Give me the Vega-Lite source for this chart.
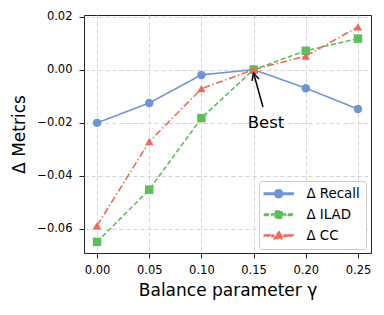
{
  "$schema": "https://vega.github.io/schema/vega-lite/v6.json",
  "width": 287,
  "height": 238,
  "autosize": {"type": "none"},
  "padding": {"left": 84, "top": 15, "right": 13, "bottom": 62},
  "config": {
    "font": "DejaVu Sans",
    "view": {"stroke": "#222222", "strokeWidth": 1},
    "axis": {
      "domain": false,
      "tickColor": "#222222",
      "tickSize": 5,
      "tickWidth": 1,
      "labelFontSize": 11.5,
      "labelColor": "#000000",
      "titleFontSize": 17,
      "titleFontWeight": "normal",
      "titleColor": "#000000",
      "gridColor": "#d3d3d3",
      "gridDash": [4, 3],
      "gridWidth": 1
    }
  },
  "datasets": {
    "metrics": [
      {"gamma": 0.00, "metric": "Δ Recall", "value": -0.0201},
      {"gamma": 0.05, "metric": "Δ Recall", "value": -0.0126},
      {"gamma": 0.10, "metric": "Δ Recall", "value": -0.0020},
      {"gamma": 0.15, "metric": "Δ Recall", "value": 0.0},
      {"gamma": 0.20, "metric": "Δ Recall", "value": -0.0070},
      {"gamma": 0.25, "metric": "Δ Recall", "value": -0.0149},
      {"gamma": 0.00, "metric": "Δ ILAD", "value": -0.0650},
      {"gamma": 0.05, "metric": "Δ ILAD", "value": -0.0453},
      {"gamma": 0.10, "metric": "Δ ILAD", "value": -0.0183},
      {"gamma": 0.15, "metric": "Δ ILAD", "value": 0.0},
      {"gamma": 0.20, "metric": "Δ ILAD", "value": 0.0071},
      {"gamma": 0.25, "metric": "Δ ILAD", "value": 0.0117},
      {"gamma": 0.00, "metric": "Δ CC", "value": -0.0589},
      {"gamma": 0.05, "metric": "Δ CC", "value": -0.0272},
      {"gamma": 0.10, "metric": "Δ CC", "value": -0.0072},
      {"gamma": 0.15, "metric": "Δ CC", "value": 0.0},
      {"gamma": 0.20, "metric": "Δ CC", "value": 0.0051},
      {"gamma": 0.25, "metric": "Δ CC", "value": 0.0161}
    ],
    "arrow": [
      {"x": 0.1590, "y": -0.0141, "x2": 0.1500, "y2": -0.0014}
    ],
    "head": [
      {"x": 0.1499, "y": -0.0013}
    ],
    "note": [
      {"x": 0.1619, "y": -0.0219, "label": "Best"}
    ]
  },
  "layer": [
    {
      "data": {"name": "metrics"},
      "mark": {"type": "point", "filled": true, "opacity": 0},
      "encoding": {
        "x": {
          "field": "gamma", "type": "quantitative",
          "scale": {"domain": [-0.0125, 0.2625], "nice": false, "zero": false},
          "axis": {"values": [0, 0.05, 0.1, 0.15, 0.2, 0.25], "format": ".2f", "labelPadding": 6, "titlePadding": 7, "title": "Balance parameter γ"}
        },
        "y": {
          "field": "value", "type": "quantitative",
          "scale": {"domain": [-0.0692, 0.0206], "nice": false, "zero": false},
          "axis": {"values": [-0.06, -0.04, -0.02, 0, 0.02], "format": ".2f", "labelPadding": 7, "titlePadding": 8, "title": "Δ Metrics"}
        },
        "color": {
          "field": "metric", "type": "nominal",
          "scale": {"domain": ["Δ Recall", "Δ ILAD", "Δ CC"], "range": ["#6f95d2", "#5ebf5a", "#ef6a55"]},
          "legend": {
            "title": null,
            "orient": "none",
            "legendX": 175,
            "legendY": 166,
            "fillColor": "#ffffff",
            "strokeColor": "#cccccc",
            "cornerRadius": 3,
            "padding": 6,
            "labelFontSize": 13.4,
            "labelColor": "#000000",
            "symbolSize": 64,
            "symbolOpacity": 1,
            "symbolOffset": 7,
            "labelOffset": 21,
            "rowPadding": 6
          }
        },
        "shape": {
          "field": "metric", "type": "nominal",
          "scale": {"domain": ["Δ Recall", "Δ ILAD", "Δ CC"], "range": [
            "M-3.6,-0.19H-0.95V0.19H-3.6Z M0.95,-0.19H3.6V0.19H0.95Z M1,0A1,1,0,1,1,-1,0A1,1,0,1,1,1,0Z",
            "M-3.6,-0.19H-2.35V0.19H-3.6Z M-1.725,-0.19H-0.9V0.19H-1.725Z M0.9,-0.19H1.725V0.19H0.9Z M2.35,-0.19H3.6V0.19H2.35Z M-0.9,-0.9H0.9V0.9H-0.9Z",
            "M-3.6,-0.19H-2.1V0.19H-3.6Z M-1.7,-0.19H-1.3V0.19H-1.7Z M1.3,-0.19H1.7V0.19H1.3Z M2.1,-0.19H3.6V0.19H2.1Z M0,-1.15L1.1,0.75H-1.1Z"
          ]},
          "legend": null
        }
      }
    },
    {
      "data": {"name": "metrics"},
      "mark": {"type": "line", "strokeWidth": 1.6},
      "encoding": {
        "x": {"field": "gamma", "type": "quantitative"},
        "y": {"field": "value", "type": "quantitative"},
        "color": {"field": "metric", "type": "nominal", "legend": null},
        "strokeDash": {
          "field": "metric", "type": "nominal",
          "scale": {"domain": ["Δ Recall", "Δ ILAD", "Δ CC"], "range": [[1, 0], [5, 2.5], [7, 2.5, 1.5, 2.5]]},
          "legend": null
        }
      }
    },
    {
      "data": {"name": "metrics"},
      "transform": [{"filter": "datum.metric === 'Δ Recall'"}],
      "mark": {"type": "point", "filled": true, "opacity": 1, "size": 72, "shape": "circle"},
      "encoding": {
        "x": {"field": "gamma", "type": "quantitative"},
        "y": {"field": "value", "type": "quantitative"},
        "color": {"field": "metric", "type": "nominal", "legend": null}
      }
    },
    {
      "data": {"name": "metrics"},
      "transform": [{"filter": "datum.metric === 'Δ ILAD'"}],
      "mark": {"type": "point", "filled": true, "opacity": 1, "size": 72, "shape": "square"},
      "encoding": {
        "x": {"field": "gamma", "type": "quantitative"},
        "y": {"field": "value", "type": "quantitative"},
        "color": {"field": "metric", "type": "nominal", "legend": null}
      }
    },
    {
      "data": {"name": "metrics"},
      "transform": [{"filter": "datum.metric === 'Δ CC'"}],
      "mark": {"type": "point", "filled": true, "opacity": 1, "size": 72, "shape": "triangle-up"},
      "encoding": {
        "x": {"field": "gamma", "type": "quantitative"},
        "y": {"field": "value", "type": "quantitative"},
        "color": {"field": "metric", "type": "nominal", "legend": null}
      }
    },
    {
      "data": {"name": "arrow"},
      "mark": {"type": "rule", "color": "#000000", "strokeWidth": 1.5},
      "encoding": {
        "x": {"field": "x", "type": "quantitative"},
        "y": {"field": "y", "type": "quantitative"},
        "x2": {"field": "x2"},
        "y2": {"field": "y2"}
      }
    },
    {
      "data": {"name": "head"},
      "mark": {"type": "point", "shape": "M-0.45,0.9L0,0L0.45,0.9", "filled": false, "stroke": "#000000", "strokeWidth": 1.5, "size": 256, "angle": -16, "opacity": 1},
      "encoding": {
        "x": {"field": "x", "type": "quantitative"},
        "y": {"field": "y", "type": "quantitative"}
      }
    },
    {
      "data": {"name": "note"},
      "mark": {"type": "text", "fontSize": 16.5, "align": "center", "baseline": "alphabetic", "color": "#000000"},
      "encoding": {
        "x": {"field": "x", "type": "quantitative"},
        "y": {"field": "y", "type": "quantitative"},
        "text": {"field": "label"}
      }
    }
  ]
}
